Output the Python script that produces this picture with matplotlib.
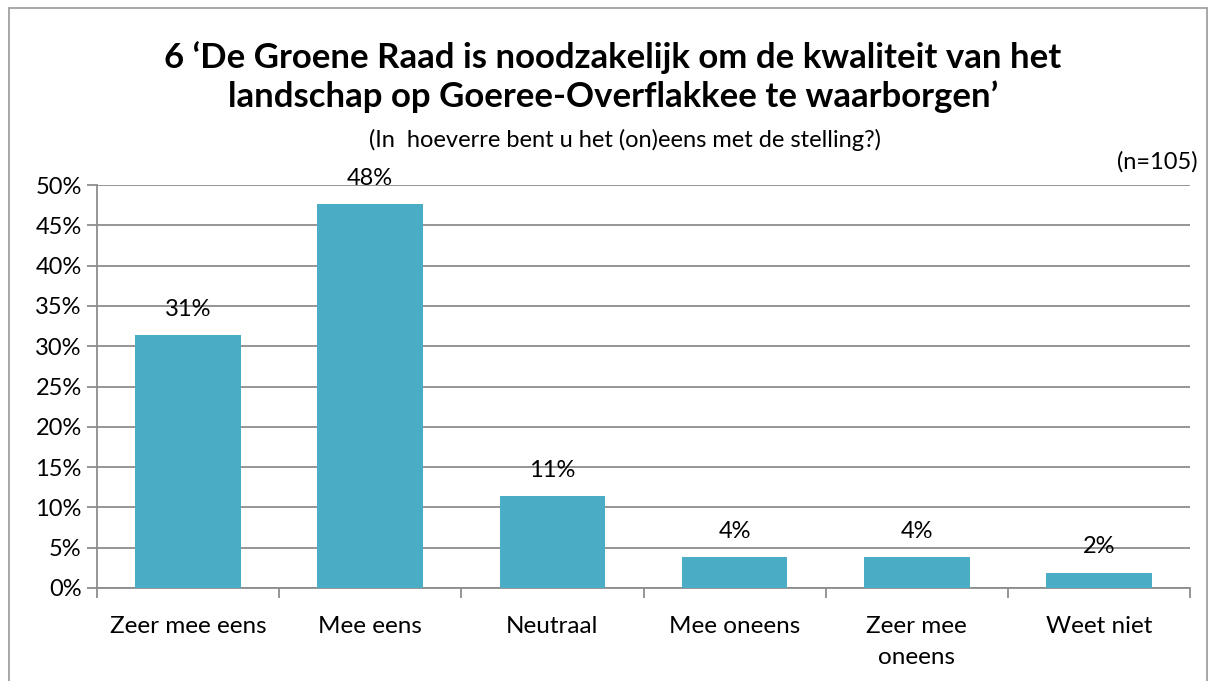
import matplotlib.pyplot as plt
from matplotlib.patches import Rectangle
from matplotlib.ticker import FuncFormatter, MultipleLocator

categories = ['Zeer mee eens', 'Mee eens', 'Neutraal', 'Mee oneens', 'Zeer mee\noneens', 'Weet niet']
values = [31.4, 47.6, 11.4, 3.8, 3.8, 1.9]
labels = ['31%', '48%', '11%', '4%', '4%', '2%']

BAR = '#4BACC6'
GRID = '#8C8C8C'

plt.rcParams['font.family'] = ['Lato', 'DejaVu Sans']

fig = plt.figure(figsize=(12.14, 6.81), dpi=100)
ax = fig.add_axes([97 / 1214, 1 - 588 / 681, (1190 - 97) / 1214, (588 - 185) / 681])

x = list(range(len(categories)))
ax.bar(x, values, width=0.58, color=BAR, zorder=3)
for xi, v, lab in zip(x, values, labels):
    ax.annotate(lab, (xi, v), xytext=(0, 11), textcoords='offset points',
                ha='center', va='bottom', fontsize=17, zorder=4)

ax.set_xlim(-0.5, len(categories) - 0.5)
ax.set_ylim(0, 50)
ax.yaxis.set_major_locator(MultipleLocator(5))
ax.yaxis.set_major_formatter(FuncFormatter(lambda v, p: f'{v:.0f}%'))
ax.grid(axis='y', color=GRID, linewidth=1.3, zorder=0)

# boundary ticks between categories, labels centred on the bars
ax.set_xticks([i - 0.5 for i in range(len(categories) + 1)])
ax.set_xticklabels([])
ax.set_xticks(x, minor=True)
ax.set_xticklabels(categories, minor=True, fontsize=17.5, linespacing=1.6)
ax.tick_params(axis='x', which='minor', length=0, pad=20)
ax.tick_params(axis='x', which='major', length=7, color=GRID, width=1.3)
ax.tick_params(axis='y', length=7, color=GRID, width=1.3, labelsize=17, pad=4)

for s in ['top', 'right']:
    ax.spines[s].set_visible(False)
for s in ['left', 'bottom']:
    ax.spines[s].set_color(GRID)
    ax.spines[s].set_linewidth(1.3)

fig.text(0.505, 1 - 77 / 681, '6 \u2018De Groene Raad is noodzakelijk om de kwaliteit van het\n'
         'landschap op Goeree-Overflakkee te waarborgen\u2019',
         ha='center', va='center', fontsize=25, fontweight='bold', linespacing=1.25)
fig.text(0.515, 1 - 140 / 681, '(In  hoeverre bent u het (on)eens met de stelling?)',
         ha='center', va='center', fontsize=17)
fig.text(1198 / 1214, 1 - 162 / 681, '(n=105)', ha='right', va='center', fontsize=17)

fig.patches.append(Rectangle((9 / 1214, -0.1), (1207 - 9) / 1214, 1.1 - 8 / 681,
                             transform=fig.transFigure, fill=False,
                             edgecolor='#A0A0A0', linewidth=1.3))

fig.savefig('out.png', dpi=100)
